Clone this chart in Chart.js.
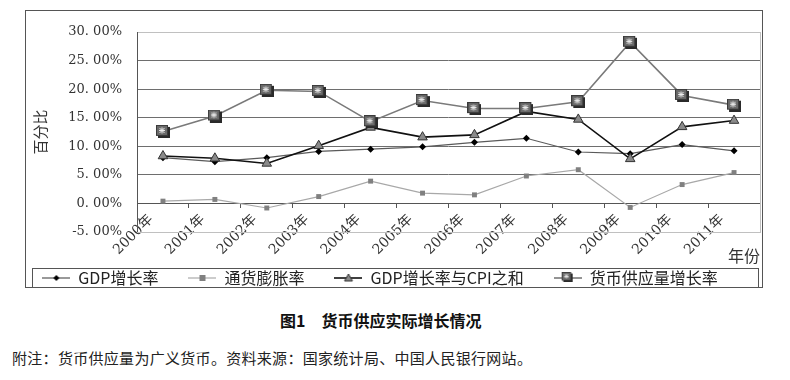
<!DOCTYPE html>
<html>
<head>
<meta charset="utf-8">
<script src="https://cdn.jsdelivr.net/npm/chart.js@4"></script>
<style>
  body { margin: 0; background: #fff; }
  #wrap { position: relative; width: 790px; height: 296px; }
  #caption { position: absolute; left: 280px; top: 308px; font: bold 16px 'Noto Sans CJK SC'; color: #111; white-space: nowrap; }
  #note { position: absolute; left: 12px; top: 347px; font: 15px 'Noto Sans CJK SC'; color: #222; letter-spacing: 0.3px; white-space: nowrap; }
</style>
</head>
<body>
<div id="wrap"><canvas id="chart"></canvas></div>
<div id="caption">图1　货币供应实际增长情况</div>
<div id="note">附注：货币供应量为广义货币。资料来源：国家统计局、中国人民银行网站。</div>
<script>
const years = ['2000年', '2001年', '2002年', '2003年', '2004年', '2005年', '2006年', '2007年', '2008年', '2009年', '2010年', '2011年'];
const gdpGrowth = [8.0, 7.3, 8.0, 9.1, 9.5, 9.9, 10.7, 11.4, 9.0, 8.7, 10.3, 9.2];
const inflation = [0.4, 0.7, -0.8, 1.2, 3.9, 1.8, 1.5, 4.8, 5.9, -0.7, 3.3, 5.4];
const gdpPlusCpi = [8.3, 7.9, 7.0, 10.1, 13.3, 11.6, 12.0, 16.1, 14.7, 7.8, 13.4, 14.5];
const moneySupply = [12.6, 15.3, 19.8, 19.6, 14.3, 18.0, 16.6, 16.6, 17.8, 28.2, 18.9, 17.2];
const seriesNames = ['GDP增长率', '通货膨胀率', 'GDP增长率与CPI之和', '货币供应量增长率'];

const tickFont = { family: "'DejaVu Serif', 'Noto Sans CJK SC'", size: 13 };
const yearFont = { family: "'DejaVu Serif', 'Noto Sans CJK SC'", size: 14 };

// marker for the money supply series: dark square with a light star
const starBox = (() => {
    const c = document.createElement('canvas');
    c.width = 14; c.height = 13;
    const g = c.getContext('2d');
    g.fillStyle = '#2a2a2a';
    g.fillRect(2, 2, 12, 11);
    g.fillStyle = '#6a6a6a';
    g.fillRect(0, 0, 12, 11);
    g.strokeStyle = '#3a3a3a';
    g.strokeRect(0.5, 0.5, 11, 10);
    g.strokeStyle = '#f0f0f0';
    g.lineWidth = 1;
    g.beginPath();
    g.moveTo(6, 2.5); g.lineTo(6, 8.5);
    g.moveTo(3, 5.5); g.lineTo(9, 5.5);
    g.moveTo(3.5, 3); g.lineTo(8.5, 8);
    g.moveTo(8.5, 3); g.lineTo(3.5, 8);
    g.stroke();
    return c;
})();

const legendIcon = (color, width, drawMarker) => {
    const c = document.createElement('canvas');
    c.width = 28; c.height = 14;
    const g = c.getContext('2d');
    g.strokeStyle = color;
    g.lineWidth = width;
    g.beginPath();
    g.moveTo(0, 7); g.lineTo(28, 7);
    g.stroke();
    drawMarker(g);
    return c;
};

const legendIcons = [
    legendIcon('#555', 1.2, g => {
        g.fillStyle = '#000';
        g.beginPath();
        g.moveTo(14, 4); g.lineTo(17, 7); g.lineTo(14, 10); g.lineTo(11, 7);
        g.closePath(); g.fill();
    }),
    legendIcon('#aaa', 1.2, g => {
        g.fillStyle = '#808080';
        g.fillRect(11, 4, 6, 6);
    }),
    legendIcon('#111', 1.6, g => {
        g.fillStyle = '#888';
        g.strokeStyle = '#333';
        g.lineWidth = 1;
        g.beginPath();
        g.moveTo(14, 3); g.lineTo(18, 10); g.lineTo(10, 10);
        g.closePath(); g.fill(); g.stroke();
    }),
    legendIcon('#7a7a7a', 1.6, g => {
        g.drawImage(starBox, 8, 1, 11, 10);
    })
];

const framePlugin = {
    id: 'frame',
    afterDraw(chart) {
        const { ctx, chartArea } = chart;
        ctx.save();
        ctx.strokeStyle = '#c0c0c0';
        ctx.lineWidth = 1;
        ctx.strokeRect(chartArea.left + 0.5, chartArea.top + 0.5, chartArea.width, chartArea.height);
        ctx.strokeStyle = '#555';
        ctx.beginPath();
        ctx.moveTo(chartArea.left + 0.5, chartArea.top);
        ctx.lineTo(chartArea.left + 0.5, chartArea.bottom);
        ctx.stroke();
        ctx.strokeRect(25.5, 10.5, 737, 277);
        ctx.strokeRect(32.5, 268.5, 726, 19);
        ctx.restore();
    }
};

new Chart(document.getElementById('chart'), {
    type: 'line',
    data: {
        labels: years,
        datasets: [
            {
                label: seriesNames[0],
                data: gdpGrowth,
                borderColor: '#5a5a5a',
                borderWidth: 1.2,
                pointStyle: 'rectRot',
                pointRadius: 3.5,
                backgroundColor: '#000',
                pointBorderColor: '#000',
                pointBorderWidth: 0,
                order: 2
            },
            {
                label: seriesNames[1],
                data: inflation,
                borderColor: '#a8a8a8',
                borderWidth: 1.2,
                pointStyle: 'rect',
                pointRadius: 3.5,
                backgroundColor: '#808080',
                pointBorderColor: '#808080',
                pointBorderWidth: 0,
                order: 3
            },
            {
                label: seriesNames[2],
                data: gdpPlusCpi,
                borderColor: '#111',
                borderWidth: 1.6,
                pointStyle: 'triangle',
                pointRadius: 5.5,
                backgroundColor: '#8a8a8a',
                pointBorderColor: '#333',
                pointBorderWidth: 1,
                order: 1
            },
            {
                label: seriesNames[3],
                data: moneySupply,
                borderColor: '#7a7a7a',
                borderWidth: 1.6,
                pointStyle: starBox,
                backgroundColor: '#6a6a6a',
                order: 0
            }
        ]
    },
    options: {
        responsive: true,
        maintainAspectRatio: false,
        animation: false,
        layout: { padding: { left: 0, right: 30, top: 32, bottom: 0 } },
        plugins: {
            tooltip: { enabled: false },
            legend: {
                position: 'bottom',
                labels: {
                    usePointStyle: true,
                    pointStyleWidth: 28,
                    padding: 30,
                    color: '#222',
                    font: { family: "'Noto Sans CJK SC'", size: 16 },
                    generateLabels: chart => chart.data.datasets.map((ds, i) => ({
                        text: ds.label,
                        pointStyle: legendIcons[i],
                        fillStyle: ds.borderColor,
                        strokeStyle: ds.borderColor,
                        lineWidth: 0,
                        hidden: false,
                        datasetIndex: i,
                        fontColor: '#222'
                    }))
                }
            }
        },
        scales: {
            y: {
                min: -5,
                max: 30,
                ticks: {
                    stepSize: 5,
                    padding: 15,
                    color: '#333',
                    font: tickFont,
                    callback: v => v.toFixed(2).replace('.', '. ') + '%'
                },
                grid: {
                    drawTicks: false,
                    color: ctx => (ctx.tick.value === 30 || ctx.tick.value === -5) ? '#c8c8c8' : '#6e6e6e'
                },
                border: { display: false },
                title: {
                    display: true,
                    text: '百分比',
                    color: '#333',
                    font: { family: "'Noto Sans CJK SC'", size: 15 },
                    padding: { top: 31, bottom: 0 }
                },
                afterFit: scale => { scale.width = 137; }
            },
            x: {
                type: 'category',
                offset: true,
                position: { y: 0 },
                grid: {
                    drawOnChartArea: false,
                    drawTicks: true,
                    tickLength: 4,
                    offset: true,
                    color: '#555'
                },
                border: { display: true, color: '#555' },
                ticks: {
                    autoSkip: false,
                    minRotation: 45,
                    maxRotation: 45,
                    labelOffset: -12,
                    padding: 4,
                    color: '#333',
                    font: yearFont
                },
                title: {
                    display: true,
                    text: '年份',
                    align: 'end',
                    color: '#333',
                    font: { family: "'Noto Sans CJK SC'", size: 16 },
                    padding: { top: -16, bottom: 0 }
                }
            },
            spacer: {
                type: 'category',
                position: 'bottom',
                display: true,
                grid: { display: false },
                border: { display: false },
                ticks: { display: false },
                afterFit: scale => { scale.height = 8; }
            }
        }
    },
    plugins: [framePlugin]
});
</script>
</body>
</html>
